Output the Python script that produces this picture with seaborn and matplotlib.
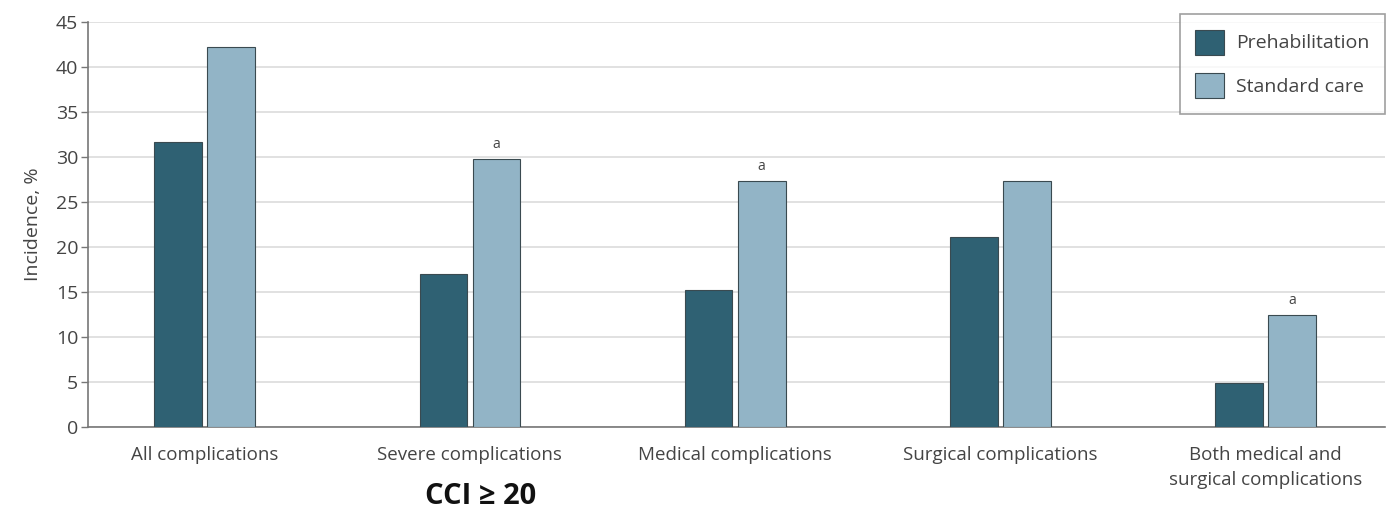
import numpy as np
import pandas as pd
import matplotlib
matplotlib.use("Agg")
import matplotlib.pyplot as plt
import seaborn as sns

sns.set_style("white")
plt.rcParams['font.family'] = ['Open Sans', 'DejaVu Sans']

# data
categories = ['All complications', 'Severe complications', 'Medical complications',
              'Surgical complications', 'Both medical and\nsurgical complications']
prehab = [31.7, 17.0, 15.2, 21.1, 4.9]
standard = [42.2, 29.8, 27.3, 27.3, 12.4]
significant = [False, True, True, False, True]
groups = ['Prehabilitation', 'Standard care']

df = pd.DataFrame({
    'category': categories * 2,
    'group': [groups[0]] * len(categories) + [groups[1]] * len(categories),
    'incidence': prehab + standard,
})

colors = {'Prehabilitation': '#2f6173', 'Standard care': '#92b4c6'}

fig = plt.figure(figsize=(13.89, 5.15), dpi=100)
ax = fig.add_axes([0.0634, 0.171, 0.9336, 0.786])

sns.barplot(data=df, x='category', y='incidence', hue='group', order=categories,
            hue_order=groups, palette=colors, saturation=1, width=0.4, gap=0.1,
            edgecolor='#3a4a50', linewidth=0.8, ax=ax, zorder=3)

ax.set_ylim(0, 45)
ax.set_xlim(-0.44, 4.45)
ax.set_yticks(range(0, 50, 5))
ax.yaxis.grid(True, color='#dcdcdc', linewidth=1.2, zorder=0)
ax.set_axisbelow(True)
for s in ['top', 'right']:
    ax.spines[s].set_visible(False)
for s in ['left', 'bottom']:
    ax.spines[s].set_color('#777777')
    ax.spines[s].set_linewidth(1.2)
ax.tick_params(axis='y', length=5, width=1, color='#777777', labelsize=14,
               labelcolor='#444444', pad=2, left=True)
ax.tick_params(axis='x', length=0, labelsize=13.5, labelcolor='#444444', pad=14)
for lab in ax.get_xticklabels():
    lab.set_linespacing(1.5)
ax.set_xlabel('')
ax.set_ylabel('Incidence, %', fontsize=14, color='#444444', labelpad=10)

# significance markers above standard-care bars
for i, (val, sig) in enumerate(zip(standard, significant)):
    if sig:
        ax.text(i + 0.1, val + 0.8, 'a', ha='center', va='bottom',
                fontsize=10, color='#444444')

leg = ax.legend(loc='upper right', bbox_to_anchor=(1.0, 1.02), borderaxespad=0,
                fontsize=14, frameon=True, fancybox=False, handlelength=1.5,
                handleheight=1.6, borderpad=0.8, labelspacing=0.95, handletextpad=0.6)
leg.get_frame().set_edgecolor('#888888')
leg.get_frame().set_linewidth(1.2)
for t in leg.get_texts():
    t.set_color('#444444')

fig.text(0.346, 0.035, 'CCI ≥ 20', ha='center', va='center', fontsize=21,
         fontweight='bold', color='#111111')

fig.savefig('out.png', dpi=100)
